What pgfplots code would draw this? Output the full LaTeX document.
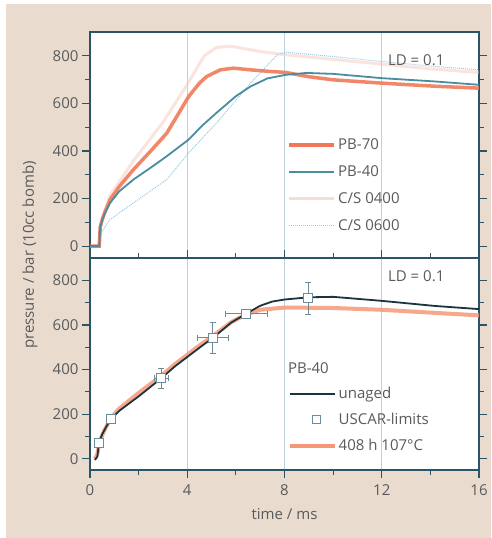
\documentclass[border=0pt]{standalone}
\usepackage{pgfplots}
\pgfplotsset{compat=1.18}
\usepackage{fontspec}
\setmainfont{Open Sans}
\definecolor{bg}{HTML}{E9DCCF}
\definecolor{frame}{HTML}{2B5566}
\definecolor{txt}{HTML}{5A5A5A}
\definecolor{pbseventy}{HTML}{F07A58}
\definecolor{pbforty}{HTML}{4A8CA0}
\definecolor{csfour}{HTML}{F8C4B6}
\definecolor{cssix}{HTML}{9CCBE0}
\definecolor{unaged}{HTML}{1C3340}
\definecolor{aged}{HTML}{F59878}
\definecolor{gridc}{HTML}{BCD3DE}
\definecolor{boxc}{HTML}{6E8C98}
\newcommand\fs{\fontsize{15}{17}\selectfont}

\pgfplotsset{
  panel/.style={
    scale only axis, width=389pt, xmin=0, xmax=16,
    ymin=-50, ymax=900,
    axis background/.style={fill=white},
    axis line style={line width=2pt, color=frame},
    ytick={0,200,...,800}, minor ytick={100,300,500,700},
    y tick style={line width=1.2pt, color=frame},
    tick align=outside, major tick length=8pt, minor tick length=5pt,
    xmajorgrids, grid style={gridc, line width=0.8pt},
    /pgf/number format/assume math mode=true,
    tick label style={font=\fs, text=txt},
    legend style={draw=none, fill=none, font=\fs, text=txt,
      anchor=north west, row sep=8pt},
    legend cell align=left,
    legend image code/.code={\draw[#1] (0pt,0pt) -- (45pt,0pt);},
  },
}

\begin{document}
\begin{tikzpicture}[x=1pt,y=1pt]
\path[fill=white] (0,0) rectangle (491,538);
\fill[bg] (6,0) rectangle (491,534);

% upper panel
\begin{axis}[panel, name=top, at={(90pt,280pt)}, anchor=south west, height=226pt,
  xtick={4,8,12}, xticklabels={}, x tick style={draw=none},
  legend style={at={(rel axis cs:0.5,0.545)}, row sep=10.5pt}]
\addplot[forget plot, csfour, line width=3pt, opacity=0.45] coordinates {
(0,0) (0.38,0) (0.42,80) (0.8,210) (1.8,360) (3,520) (4,680) (4.7,800) (5.2,835) (5.8,840)
(7,818) (8,805) (10,785) (12,765) (14,745) (16,730)};
\addplot[forget plot, cssix, line width=1pt, densely dotted] coordinates {
(0,0) (0.38,0) (0.42,50) (0.83,112) (1.79,182) (3.16,280) (4.06,392) (5.2,517) (6.6,685)
(7.7,804) (8.05,815) (10,797) (12,776) (14,757) (16,741)};
\addplot[forget plot, pbseventy, line width=3.5pt, opacity=0.9] coordinates {
(0,0) (0.38,0) (0.42,80) (0.5,110) (0.6,140) (0.83,196) (1.2,250) (1.79,322) (2.5,400)
(3.16,475) (3.6,550) (4.06,629) (4.5,685) (4.8,713) (5.36,741) (5.9,748) (6.6,741)
(7.3,735) (8.05,730) (9,712) (10,699) (12,685) (14.2,672) (16,664)};
\addplot[forget plot, pbforty, line width=1.8pt] coordinates {
(0,0) (0.38,0) (0.42,80) (0.5,110) (0.6,135) (0.83,182) (1.2,230) (1.79,280) (2.5,330)
(3.16,378) (4.06,448) (4.6,505) (5.2,560) (6,630) (6.6,671) (7.3,705) (8.05,720)
(8.9,728) (10,724) (12,706) (14.2,692) (16,678)};
\addlegendimage{pbseventy, line width=3.5pt}\addlegendentry{PB-70}
\addlegendimage{pbforty, line width=1.8pt}\addlegendentry{PB-40}
\addlegendimage{csfour, line width=3pt, opacity=0.6}\addlegendentry{C/S 0400}
\addlegendimage{cssix, line width=1pt, densely dotted}\addlegendentry{C/S 0600}
\node[anchor=east, text=txt, font=\fs] at (rel axis cs:0.92,0.876) {LD = 0.1};
\end{axis}

% lower panel
\begin{axis}[panel, name=bot, at={(90pt,68pt)}, anchor=south west, height=212pt,
  xtick={0,4,...,16}, minor xtick={2,6,10,14},
  x tick style={line width=1.2pt, color=frame},
  xticklabel style={yshift=-3pt},
  xlabel={time / ms}, xlabel style={text=txt, font=\fs, yshift=-6pt},
  legend style={at={(rel axis cs:0.5,0.41)}, row sep=9pt}]
\addplot[forget plot, aged, line width=4pt, opacity=0.85] coordinates {
(0.2,0) (0.3,20) (0.4,80) (0.6,130) (0.87,185) (1.2,225) (2,295) (2.93,372) (3.5,425)
(4.55,512) (5.05,550) (5.8,612) (6.43,648) (7,668) (8,678) (10,676) (12,668)
(14.2,654) (16,643)};
\addplot[forget plot, unaged, line width=1.8pt] coordinates {
(0.2,-5) (0.3,10) (0.37,70) (0.5,110) (0.7,150) (0.87,179) (1.2,215) (2,280) (2.93,361)
(3.5,415) (4.55,502) (5.05,542) (5.8,610) (6.43,651) (7,686) (7.5,705) (8,714) (9,724)
(10,726) (12,708) (14.2,685) (16,671)};
\addplot[forget plot, only marks, mark=square*, mark size=4.5pt,
  mark options={fill=white, draw=boxc, line width=1pt},
  error bars/.cd, x dir=both, x explicit, y dir=both, y explicit,
  error bar style={boxc, line width=0.9pt}, error mark options={rotate=90, mark size=3pt, boxc}]
  coordinates {
(0.37,70) +- (0.05,20)
(0.87,179) +- (0.1,20)
(2.93,361) +- (0.3,45)
(5.05,542) +- (0.65,70)
(6.43,651) +- (0.85,15)
(8.97,721) +- (0,72)};
\addlegendimage{unaged, line width=1.8pt}\addlegendentry{unaged}
\addlegendimage{legend image code/.code={\node[draw=boxc, fill=white, line width=1pt,
  inner sep=0pt, minimum size=8pt] at (22pt,0pt) {};}}\addlegendentry{USCAR-limits}
\addlegendimage{aged, line width=4pt}\addlegendentry{408 h 107°C}
\node[anchor=south west, text=txt, font=\fs] at (rel axis cs:0.5,0.44) {PB-40};
\node[anchor=east, text=txt, font=\fs] at (rel axis cs:0.92,0.915) {LD = 0.1};
\end{axis}

\node[rotate=90, text=txt, font=\fs] at (30,283) {pressure / bar (10cc bomb)};
\end{tikzpicture}
\end{document}
